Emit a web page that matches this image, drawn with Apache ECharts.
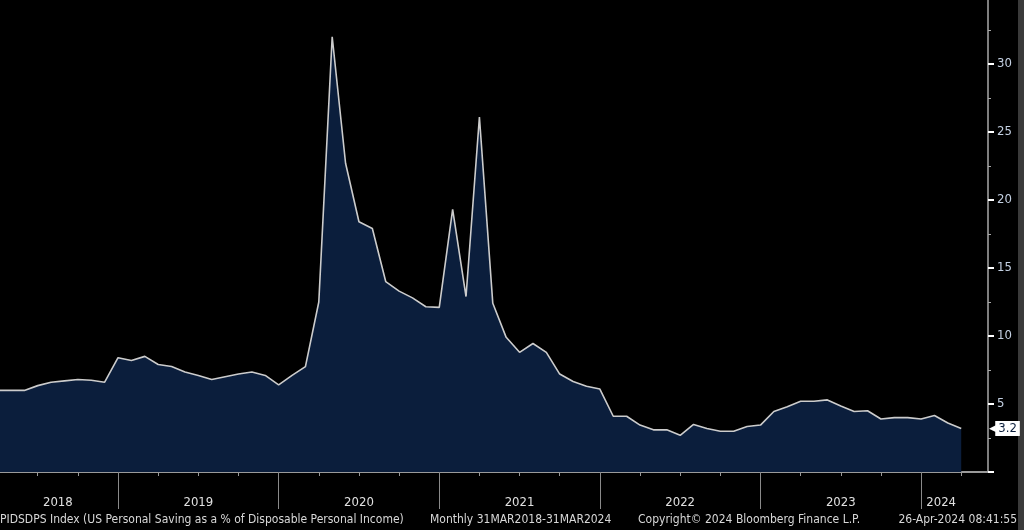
<!DOCTYPE html>
<html>
<head>
<meta charset="utf-8">
<script src="https://cdn.jsdelivr.net/npm/echarts@6/dist/echarts.min.js"></script>
<style>
  html, body { margin: 0; padding: 0; background: #000; }
  #chart { width: 1024px; height: 530px; }
</style>
</head>
<body>
<div id="chart"></div>
<script>
// monthly, 31MAR2018 .. 31MAR2024 (index 0 = Mar 2018)
const savingRate = [
  6.0, 6.0, 6.0, 6.35, 6.6, 6.7, 6.8, 6.75, 6.6, 8.4,
  8.2, 8.5, 7.9, 7.75, 7.35, 7.1, 6.8, 7.0, 7.2, 7.35,
  7.1, 6.4, 7.1, 7.75, 12.5, 32.0, 22.7, 18.4, 17.9, 14.0,
  13.3, 12.8, 12.15, 12.1, 19.3, 12.9, 26.1, 12.4, 9.9, 8.8,
  9.45, 8.8, 7.2, 6.65, 6.3, 6.1, 4.1, 4.1, 3.45, 3.1,
  3.1, 2.7, 3.5, 3.2, 3.0, 3.0, 3.35, 3.45, 4.45, 4.8,
  5.2, 5.2, 5.3, 4.85, 4.45, 4.5, 3.9, 4.0, 4.0, 3.9,
  4.15, 3.6, 3.2
];
const yearLabels = ['2018', '2019', '2020', '2021', '2022', '2023', '2024'];
// month index of each year's label centre and of each December (year end)
const yearLabelPos = [4.5, 15, 27, 39, 51, 63, 70.5];
const yearEnds = [9, 21, 33, 45, 57, 69];
const quarterEnds = [3, 6, 12, 15, 18, 24, 27, 30, 36, 39, 42, 48, 51, 54, 60, 63, 66, 72];
const yTicks = [0, 5, 10, 15, 20, 25, 30];
const yLabels = [5, 10, 15, 20, 25, 30];
const yMinorTicks = [2.5, 7.5, 12.5, 17.5, 22.5, 27.5, 32.5];

const font = '"Liberation Sans Narrow", "DejaVu Sans Condensed", "Liberation Sans", sans-serif';
const xMin = 0.18, xMax = 74;
const yMax = 34.7;

const chart = echarts.init(document.getElementById('chart'));

const baseX = {
  type: 'value', min: xMin, max: xMax, position: 'bottom',
  axisLine: { show: false }, splitLine: { show: false },
  axisLabel: { show: false }, axisTick: { show: false }
};
const baseY = {
  type: 'value', position: 'right', min: 0, max: yMax,
  axisLine: { show: false }, splitLine: { show: false },
  axisLabel: { show: false }, axisTick: { show: false }
};

const footer = (text, pos) => Object.assign({
  text: text, top: 514, padding: 0,
  textStyle: { color: '#d8d8d8', fontSize: 12, fontWeight: 'normal', fontFamily: font }
}, pos);

chart.setOption({
  backgroundColor: '#000',
  animation: false,
  title: [
    footer('PIDSDPS Index (US Personal Saving as a % of Disposable Personal Income)', { left: 0 }),
    footer('Monthly 31MAR2018-31MAR2024', { left: 430 }),
    footer('Copyright\u00a9 2024 Bloomberg Finance L.P.', { left: 638 }),
    footer('26-Apr-2024 08:41:55', { right: 7 })
  ],
  graphic: [
    { type: 'rect', right: 0, top: 0, shape: { width: 6, height: 530 }, style: { fill: '#3a3a3a' } }
  ],
  grid: { left: 0, right: 36, top: 0, bottom: 58 },
  xAxis: [
    Object.assign({}, baseX, {
      axisLine: { show: true, lineStyle: { color: '#9a9a9a', width: 2 } },
      axisTick: { show: true, customValues: yearEnds, length: 37, lineStyle: { color: '#8a8a8a', width: 1 } },
      axisLabel: {
        show: true, customValues: yearLabelPos, margin: 24,
        color: '#e0e0e0', fontSize: 13, fontFamily: font,
        formatter: v => yearLabels[yearLabelPos.indexOf(v)] || ''
      }
    }),
    Object.assign({}, baseX, {
      axisTick: { show: true, customValues: quarterEnds, length: 4, lineStyle: { color: '#9a9a9a', width: 1 } }
    })
  ],
  yAxis: [
    Object.assign({}, baseY, {
      axisLine: { show: true, lineStyle: { color: '#a8a8a8', width: 1.5 } },
      axisTick: { show: true, customValues: yTicks, length: 6, lineStyle: { color: '#ffffff', width: 2 } },
      axisLabel: {
        show: true, customValues: yLabels,
        margin: 9, color: '#c4d0e2', fontSize: 13, fontFamily: font
      }
    }),
    Object.assign({}, baseY, {
      axisTick: { show: true, customValues: yMinorTicks, length: 3, lineStyle: { color: '#a8a8a8', width: 1 } }
    })
  ],
  series: [{
    type: 'line',
    data: savingRate.map((v, i) => [i, v]),
    symbol: 'none',
    lineStyle: { color: '#cccccc', width: 1.6 },
    areaStyle: { color: '#0b1e3c', opacity: 1 },
    endLabel: {
      show: true, offset: [20, 0],
      formatter: p => '{a|\u25c0}{b|' + p.value[1] + '}',
      rich: {
        a: { color: '#ffffff', fontSize: 9, padding: [0, -1, 0, 0] },
        b: { backgroundColor: '#ffffff', color: '#0b1e3c', fontSize: 13, fontFamily: font, padding: [1, 3] }
      }
    }
  }]
});
</script>
</body>
</html>
